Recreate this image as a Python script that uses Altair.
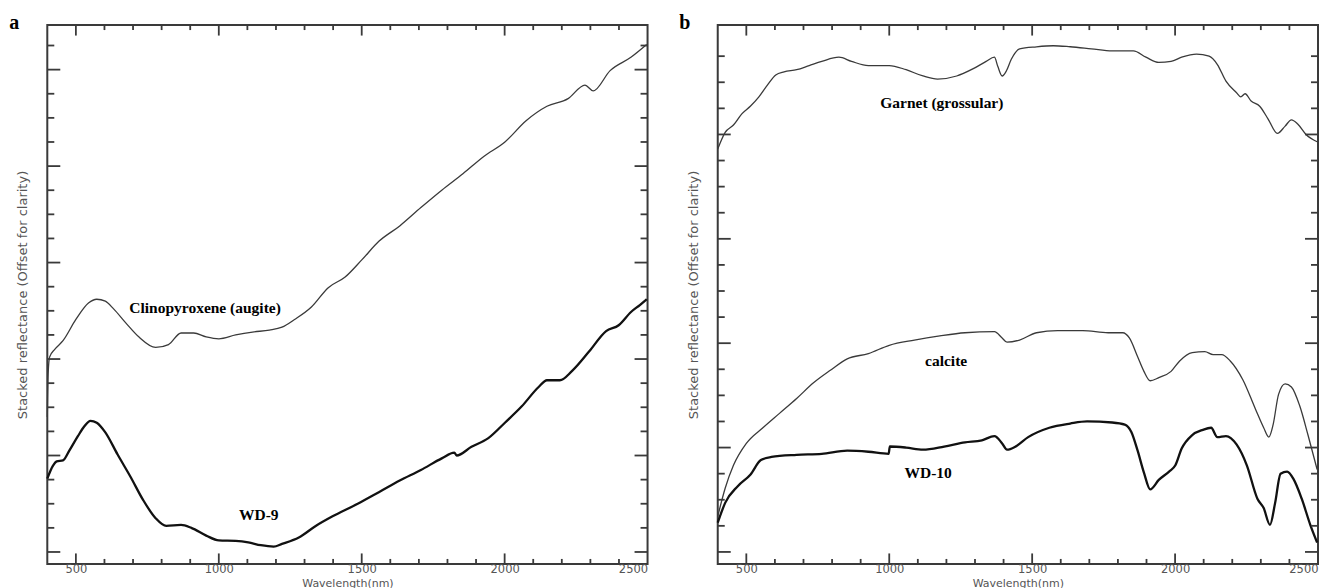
import altair as alt
import pandas as pd

# ---------------- data ----------------
# Panel a
aug_wl = [400, 403, 408, 426, 455, 500, 544, 573, 603, 632, 676, 720, 779, 824, 868, 912, 956, 1000,
          1059, 1118, 1177, 1221, 1265, 1324, 1383, 1442, 1501, 1560, 1633, 1707, 1780, 1854, 1927,
          2001, 2075, 2148, 2222, 2281, 2310, 2369, 2443, 2497]
aug_val = [1.40, 1.85, 2.02, 2.10, 2.19, 2.41, 2.58, 2.62, 2.60, 2.52, 2.37, 2.23, 2.12, 2.15, 2.27,
           2.27, 2.23, 2.21, 2.25, 2.28, 2.30, 2.33, 2.41, 2.54, 2.74, 2.85, 3.03, 3.22, 3.38, 3.57,
           3.75, 3.92, 4.10, 4.25, 4.47, 4.62, 4.70, 4.84, 4.78, 4.99, 5.13, 5.26]

wd9_wl = [400, 419, 433, 455, 477, 507, 529, 551, 573, 603, 646, 691, 735, 779, 816, 868, 904, 956,
          1000, 1059, 1103, 1147, 1192, 1221, 1280, 1339, 1398, 1486, 1560, 1633, 1707, 1780, 1824,
          1832, 1884, 1943, 2001, 2060, 2119, 2148, 2193, 2237, 2296, 2355, 2399, 2443, 2473, 2497]
wd9_val = [0.76, 0.89, 0.94, 0.95, 1.05, 1.20, 1.30, 1.36, 1.34, 1.24, 1.01, 0.78, 0.54, 0.35, 0.27,
           0.28, 0.25, 0.17, 0.12, 0.115, 0.10, 0.07, 0.056, 0.084, 0.15, 0.27, 0.37, 0.50, 0.62,
           0.74, 0.85, 0.97, 1.03, 1.00, 1.09, 1.18, 1.34, 1.51, 1.71, 1.78, 1.78, 1.88, 2.08, 2.29,
           2.35, 2.49, 2.56, 2.62]

# Panel b
gar_wl = [400, 426, 455, 485, 514, 544, 573, 603, 632, 676, 720, 764, 824, 868, 927, 1000, 1059, 1118,
          1169, 1236, 1294, 1339, 1368, 1380, 1395, 1410, 1427, 1456, 1515, 1574, 1633, 1707, 1780,
          1854, 1898, 1943, 1986, 2023, 2075, 2119, 2148, 2178, 2215, 2230, 2245, 2266, 2296, 2325,
          2358, 2385, 2407, 2429, 2458, 2497]
gar_val = [3.86, 4.02, 4.09, 4.20, 4.27, 4.36, 4.47, 4.57, 4.60, 4.62, 4.66, 4.70, 4.74, 4.70, 4.66,
           4.66, 4.62, 4.56, 4.53, 4.56, 4.63, 4.70, 4.74, 4.65, 4.56, 4.61, 4.72, 4.82, 4.84, 4.85,
           4.84, 4.82, 4.80, 4.80, 4.74, 4.69, 4.70, 4.74, 4.77, 4.75, 4.67, 4.51, 4.40, 4.36, 4.39,
           4.32, 4.27, 4.15, 4.01, 4.08, 4.14, 4.10, 4.00, 3.93]

cal_wl = [400, 426, 455, 500, 558, 617, 676, 735, 794, 853, 927, 1000, 1088, 1177, 1265, 1368, 1395,
          1412, 1456, 1515, 1589, 1677, 1766, 1817, 1840, 1869, 1891, 1913, 1943, 1986, 2016, 2060,
          2104, 2133, 2163, 2193, 2237, 2281, 2310, 2328, 2343, 2362, 2385, 2407, 2436, 2465, 2497]
cal_val = [0.34, 0.61, 0.83, 1.04, 1.19, 1.33, 1.47, 1.62, 1.74, 1.85, 1.90, 1.98, 2.03, 2.07, 2.10,
           2.11, 2.05, 2.01, 2.03, 2.10, 2.12, 2.12, 2.10, 2.10, 2.05, 1.87, 1.73, 1.64, 1.67, 1.73,
           1.83, 1.91, 1.92, 1.89, 1.89, 1.83, 1.65, 1.37, 1.19, 1.10, 1.22, 1.51, 1.61, 1.58, 1.40,
           1.12, 0.79]

wd10_wl = [400, 426, 470, 514, 551, 588, 676, 764, 853, 927, 998, 1002, 1059, 1118, 1192, 1265, 1324,
           1368, 1395, 1412, 1442, 1486, 1560, 1633, 1692, 1780, 1824, 1847, 1869, 1891, 1913, 1943,
           1979, 2001, 2023, 2060, 2097, 2126, 2148, 2178, 2215, 2251, 2288, 2310, 2332, 2350, 2369,
           2392, 2414, 2443, 2473, 2497]
wd10_val = [0.28, 0.47, 0.63, 0.74, 0.88, 0.91, 0.93, 0.94, 0.97, 0.96, 0.94, 1.01, 1.00, 0.98, 1.01,
            1.05, 1.07, 1.11, 1.04, 0.98, 1.01, 1.10, 1.19, 1.23, 1.25, 1.24, 1.22, 1.15, 0.97, 0.76,
            0.60, 0.69, 0.77, 0.83, 0.99, 1.12, 1.17, 1.19, 1.10, 1.11, 1.03, 0.83, 0.51, 0.42, 0.26,
            0.47, 0.75, 0.77, 0.70, 0.51, 0.26, 0.09]

# annotation labels
a_label_text = ["Clinopyroxene (augite)", "WD-9"]
a_label_wl = [952, 1140]
a_label_val = [2.53, 0.38]
b_label_text = ["Garnet (grossular)", "calcite", "WD-10"]
b_label_wl = [1184, 1199, 1136]
b_label_val = [4.30, 1.83, 0.76]

# axis ticks
x_labels = [500, 1000, 1500, 2000, 2500]
x_major = [500, 1000, 1500, 2000]
x_minor = [600, 700, 800, 900, 1100, 1200, 1300, 1400, 1600, 1700, 1800, 1900,
           2100, 2200, 2300, 2400]
a_y_domain = [-0.124, 5.462]
a_y_major = [0, 1, 2, 3, 4, 5]
a_y_minor = [0.25, 0.5, 0.75, 1.25, 1.5, 1.75, 2.25, 2.5, 2.75, 3.25, 3.5, 3.75,
             4.25, 4.5, 4.75, 5.25]
b_y_domain = [-0.115, 5.048]
b_y_major = [0, 1, 2, 3, 4]
b_y_minor = [0.25, 0.5, 0.75, 1.25, 1.5, 1.75, 2.25, 2.5, 2.75, 3.25, 3.5, 3.75,
             4.25, 4.5, 4.75]

# ---------------- chart ----------------
W, H = 600.4, 539
FRAME = "#3a3a3a"
THIN = "#3a3a3a"
THICK = "#111111"
YTITLE = "Stacked reflectance (Offset for clarity)"

XAX = alt.Axis(values=x_labels, title="Wavelength(nm)", ticks=False, tickSize=0,
               domain=False, grid=False, labelFont="DejaVu Sans", labelFontSize=11.5,
               labelColor="#555", labelPadding=0, format="d",
               titleFont="DejaVu Sans", titleFontSize=11, titleFontWeight="normal",
               titleColor="#555", titlePadding=1.9)
YAX = alt.Axis(title=YTITLE, labels=False, ticks=False, tickSize=0, domain=False,
               grid=False, titleFont="DejaVu Sans", titleFontSize=13,
               titleFontWeight="normal", titleColor="#555", titlePadding=17.5)


def panel(series, lab_text, lab_wl, lab_val, y_domain, y_major, y_minor, letter):
    xs = alt.Scale(domain=[400, 2500], nice=False, zero=False)
    ys = alt.Scale(domain=y_domain, nice=False, zero=False)
    X = lambda f: alt.X(f, scale=xs, axis=XAX)
    Y = lambda f: alt.Y(f, scale=ys, axis=YAX)
    layers = []
    for wl, val, color, sw in series:
        df = pd.DataFrame({"wl": wl, "val": val})
        layers.append(
            alt.Chart(df).mark_line(color=color, strokeWidth=sw, interpolate="monotone").encode(
                x=X("wl:Q"), y=Y("val:Q"))
        )
    ldf = pd.DataFrame({"wl": lab_wl, "val": lab_val, "t": lab_text})
    layers.append(
        alt.Chart(ldf).mark_text(font="Liberation Serif", fontWeight="bold", fontSize=15.5,
                                 color="black").encode(
            x=X("wl:Q"), y=Y("val:Q"), text="t:N")
    )
    # inward ticks
    for vals, ln in [(y_major, 13), (y_minor, 7)]:
        tdf = pd.DataFrame({"val": vals})
        layers.append(alt.Chart(tdf).mark_rule(color=FRAME, strokeWidth=1.8).encode(
            y=Y("val:Q"), x=alt.value(0), x2=alt.value(ln)))
        layers.append(alt.Chart(tdf).mark_rule(color=FRAME, strokeWidth=1.8).encode(
            y=Y("val:Q"), x=alt.value(W), x2=alt.value(W - ln)))
    for vals, ln in [(x_major, 10.5), (x_minor, 5)]:
        tdf = pd.DataFrame({"wl": vals})
        layers.append(alt.Chart(tdf).mark_rule(color=FRAME, strokeWidth=1.8).encode(
            x=X("wl:Q"), y=alt.value(H), y2=alt.value(H - ln)))
        layers.append(alt.Chart(tdf).mark_rule(color=FRAME, strokeWidth=1.8).encode(
            x=X("wl:Q"), y=alt.value(0), y2=alt.value(ln)))
    layers.append(
        alt.Chart(pd.DataFrame({"t": [letter]})).mark_text(
            font="Liberation Serif", fontWeight="bold", fontSize=20, color="black",
            align="center", baseline="alphabetic").encode(
            x=alt.value(-33), y=alt.value(4), text="t:N")
    )
    return alt.layer(*layers).properties(width=W, height=H)


pa = panel([(aug_wl, aug_val, THIN, 1.3), (wd9_wl, wd9_val, THICK, 2.3)],
           a_label_text, a_label_wl, a_label_val, a_y_domain, a_y_major, a_y_minor, "a")
pb = panel([(gar_wl, gar_val, THIN, 1.3), (cal_wl, cal_val, THIN, 1.3),
            (wd10_wl, wd10_val, THICK, 2.3)],
           b_label_text, b_label_wl, b_label_val, b_y_domain, b_y_major, b_y_minor, "b")

chart = alt.hconcat(pa, pb, spacing=24.6).properties(
    padding={"left": 0.3, "top": 4, "right": 0, "bottom": 0}
).configure_view(stroke=FRAME, strokeWidth=2)

chart.save("out.html", embed_options={"renderer": "svg", "actions": False})
